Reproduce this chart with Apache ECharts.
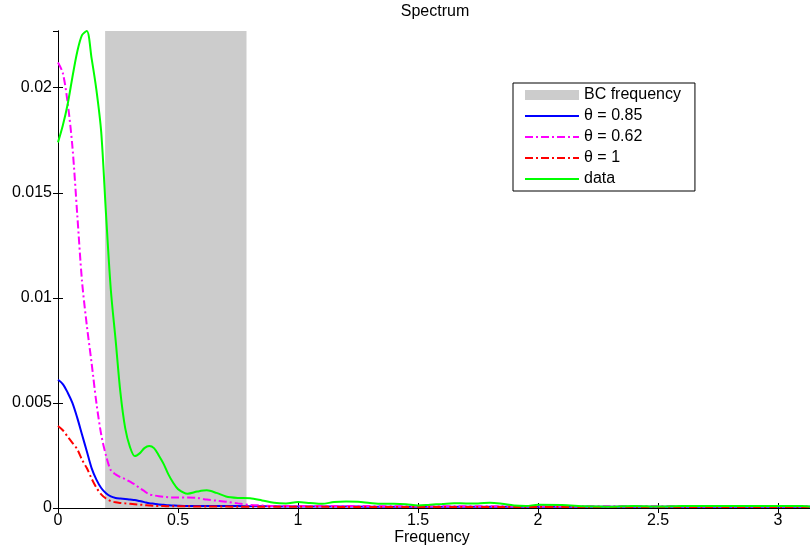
<!DOCTYPE html>
<html>
<head>
<meta charset="utf-8">
<script src="https://cdn.jsdelivr.net/npm/echarts@6/dist/echarts.min.js"></script>
<style>html,body{margin:0;padding:0;background:#fff;}#c{width:810px;height:547px;}</style>
</head>
<body>
<div id="c"></div>
<script>
var freq = [0, 0.02, 0.04, 0.06, 0.08, 0.10, 0.12, 0.14, 0.16, 0.18, 0.20, 0.22, 0.24, 0.26, 0.28, 0.30, 0.32, 0.34, 0.36, 0.38, 0.40, 0.42, 0.44, 0.46, 0.48, 0.50, 0.54, 0.58, 0.62, 0.66, 0.70, 0.75, 0.80, 0.85, 0.90, 0.95, 1.00, 1.05, 1.10, 1.15, 1.20, 1.25, 1.30, 1.35, 1.40, 1.45, 1.50, 1.55, 1.60, 1.65, 1.70, 1.75, 1.80, 1.85, 1.90, 1.95, 2.00, 2.10, 2.20, 2.30, 2.40, 2.50, 2.60, 2.70, 2.80, 2.90, 3.00, 3.10, 3.1416];

var theta085 = [0.0061, 0.0059, 0.0055, 0.0050, 0.0043, 0.0035, 0.0027, 0.0019, 0.00135, 0.00095, 0.0007, 0.00055, 0.00048, 0.00045, 0.00043, 0.0004, 0.00038, 0.00033, 0.00028, 0.00023, 0.0002, 0.00017, 0.00015, 0.00013, 0.00012, 0.00011, 0.0001, 0.0001, 0.0001, 0.00009, 0.00009, 0.00009, 0.00008, 0.00008, 0.00008, 0.00007, 0.00007, 0.00007, 0.00007, 0.00007, 0.00007, 0.00007, 0.00006, 0.00006, 0.00006, 0.00006, 0.00006, 0.00006, 0.00006, 0.00006, 0.00006, 0.00006, 0.00006, 0.00006, 0.00006, 0.00006, 0.00006, 0.00006, 0.00006, 0.00006, 0.00006, 0.00006, 0.00006, 0.00006, 0.00006, 0.00006, 0.00006, 0.00006, 0.00006];

var theta062 = [0.0212, 0.0207, 0.0193, 0.0172, 0.0140, 0.0108, 0.0087, 0.0069, 0.0050, 0.0035, 0.0025, 0.0018, 0.0016, 0.00147, 0.00138, 0.00125, 0.00112, 0.00095, 0.0008, 0.00065, 0.0006, 0.00056, 0.00053, 0.00051, 0.0005, 0.0005, 0.0005, 0.00048, 0.0004, 0.00035, 0.0003, 0.00022, 0.00015, 0.00012, 0.0001, 0.0001, 0.0001, 0.00009, 0.00009, 0.00009, 0.00009, 0.00009, 0.00009, 0.00008, 0.00008, 0.00008, 0.00008, 0.00008, 0.00008, 0.00008, 0.00008, 0.00008, 0.00008, 0.00008, 0.00008, 0.00008, 0.00008, 0.00008, 0.00008, 0.00008, 0.00008, 0.00008, 0.00008, 0.00008, 0.00008, 0.00008, 0.00008, 0.00008, 0.00008];

var theta1 = [0.0039, 0.0037, 0.0034, 0.0031, 0.0028, 0.0023, 0.0019, 0.0014, 0.00097, 0.00065, 0.00045, 0.00033, 0.00027, 0.00024, 0.00022, 0.0002, 0.00018, 0.00016, 0.00014, 0.00012, 0.0001, 0.00009, 0.00009, 0.00008, 0.00008, 0.00008, 0.00008, 0.00007, 0.00007, 0.00007, 0.00007, 0.00006, 0.00006, 0.00006, 0.00006, 0.00006, 0.00006, 0.00006, 0.00006, 0.00005, 0.00005, 0.00005, 0.00005, 0.00005, 0.00005, 0.00005, 0.00005, 0.00005, 0.00005, 0.00005, 0.00005, 0.00005, 0.00005, 0.00005, 0.00005, 0.00005, 0.00005, 0.00005, 0.00005, 0.00005, 0.00005, 0.00005, 0.00005, 0.00005, 0.00005, 0.00005, 0.00005, 0.00005, 0.00005];

var dataSpec = [0.0174, 0.0182, 0.0192, 0.0205, 0.0217, 0.0225, 0.0227, 0.0214, 0.0199, 0.0179, 0.0140, 0.0104, 0.0080, 0.0055, 0.0038, 0.0029, 0.00247, 0.0026, 0.00285, 0.00295, 0.00285, 0.0025, 0.0021, 0.0016, 0.0012, 0.0009, 0.00068, 0.00078, 0.00084, 0.00072, 0.00055, 0.00048, 0.00046, 0.00036, 0.00025, 0.00022, 0.00028, 0.00024, 0.0002, 0.00028, 0.00031, 0.0003, 0.00024, 0.0002, 0.0002, 0.00018, 0.00012, 0.00016, 0.00019, 0.00023, 0.00022, 0.00022, 0.00025, 0.0002, 0.00012, 0.0001, 0.00015, 0.00014, 0.00008, 0.00006, 0.0001, 0.00007, 0.0001, 0.00009, 0.0001, 0.00009, 0.0001, 0.00009, 0.00007];

var bcBand = [Math.PI / 16, Math.PI / 4];
var xTicks = [0, 0.5, 1, 1.5, 2, 2.5, 3];
var yTicks = [0, 0.005, 0.01, 0.015, 0.02];
var xMax = Math.PI;
var yMax = 0.0227;

function pairs(ys) { return freq.map(function (x, i) { return [x, ys[i]]; }); }
function isTick(list, v) { return list.some(function (t) { return Math.abs(t - v) < 1e-9; }); }

var FONT = 'Liberation Sans';
var chart = echarts.init(document.getElementById('c'), null, { renderer: 'canvas' });

var axisLine = { show: true, lineStyle: { color: '#000', width: 1 } };
var tick = { show: true, inside: true, length: 5, lineStyle: { color: '#000', width: 1 } };
var noSymbol = { opacity: 0 };
var textStyle = { fontFamily: FONT, fontSize: 16, fontWeight: 'normal', color: '#000' };

chart.setOption({
  animation: false,
  backgroundColor: '#fff',
  title: [
    { text: 'Spectrum', left: 435, top: 4, textAlign: 'center', padding: 0, textStyle: textStyle },
    { text: 'Frequency', left: 432, top: 530, textAlign: 'center', padding: 0, textStyle: textStyle }
  ],
  grid: { left: 58, top: 31, right: -2, bottom: 39, containLabel: false, outerBoundsMode: 'none' },
  legend: {
    left: 513, top: 83, orient: 'vertical',
    backgroundColor: '#fff', borderColor: '#000', borderWidth: 1,
    padding: [4, 14, 4, 11], itemGap: 5, itemWidth: 54, itemHeight: 10, itemTextGap: 5,
    textStyle: { fontFamily: FONT, fontSize: 16, color: '#000', lineHeight: 16 },
    data: [
      { name: 'BC frequency', icon: 'rect', itemStyle: { color: '#cccccc', opacity: 1 } },
      { name: 'θ = 0.85', itemStyle: noSymbol },
      { name: 'θ = 0.62', itemStyle: noSymbol },
      { name: 'θ = 1', itemStyle: noSymbol },
      { name: 'data', itemStyle: noSymbol }
    ]
  },
  xAxis: [{
    type: 'value', min: 0, max: xMax, interval: 0.5, position: 'bottom',
    axisLine: axisLine, axisTick: tick, splitLine: { show: false },
    axisLabel: {
      fontFamily: FONT, fontSize: 16, color: '#000', margin: 5,
      showMaxLabel: false,
      formatter: function (v) { return isTick(xTicks, v) ? String(v) : ''; }
    }
  }, {
    type: 'value', min: 0, max: xMax, interval: 0.5, position: 'top',
    axisLine: axisLine, axisTick: tick, axisLabel: { show: false }, splitLine: { show: false }
  }],
  yAxis: [{
    type: 'value', min: 0, max: yMax, interval: 0.005, position: 'left',
    axisLine: axisLine, axisTick: tick, splitLine: { show: false },
    axisLabel: {
      fontFamily: FONT, fontSize: 16, color: '#000', margin: 6,
      showMaxLabel: false,
      formatter: function (v) { return isTick(yTicks, v) ? String(v) : ''; }
    }
  }, {
    type: 'value', min: 0, max: yMax, interval: 0.005, position: 'right',
    axisLine: axisLine, axisTick: tick, axisLabel: { show: false }, splitLine: { show: false }
  }],
  series: [
    {
      name: 'BC frequency', type: 'line', data: [], symbol: 'none', silent: true,
      itemStyle: { color: '#cccccc' }, lineStyle: { color: '#cccccc' },
      markArea: {
        silent: true, itemStyle: { color: '#cccccc', opacity: 1 },
        data: [[{ xAxis: bcBand[0] }, { xAxis: bcBand[1] }]]
      }
    },
    {
      name: 'θ = 0.85', type: 'line', data: pairs(theta085), symbol: 'none', smooth: 0.3,
      itemStyle: { color: '#0000ff' }, lineStyle: { color: '#0000ff', width: 2 }
    },
    {
      name: 'θ = 0.62', type: 'line', data: pairs(theta062), symbol: 'none', smooth: 0.3,
      itemStyle: { color: '#ff00ff' }, lineStyle: { color: '#ff00ff', width: 2, type: [8, 3, 2, 3] }
    },
    {
      name: 'θ = 1', type: 'line', data: pairs(theta1), symbol: 'none', smooth: 0.3,
      itemStyle: { color: '#ff0000' }, lineStyle: { color: '#ff0000', width: 2, type: [8, 3, 2, 3] }
    },
    {
      name: 'data', type: 'line', data: pairs(dataSpec), symbol: 'none', smooth: 0.3,
      itemStyle: { color: '#00ff00' }, lineStyle: { color: '#00ff00', width: 2 }
    }
  ]
});
</script>
</body>
</html>
